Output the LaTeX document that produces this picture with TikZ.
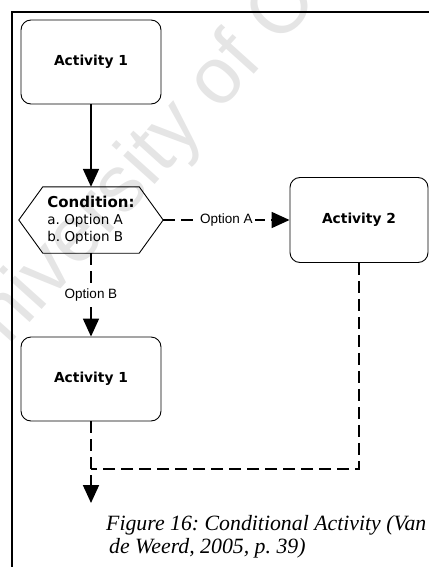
\documentclass[tikz,border=0pt]{standalone}
\usepackage{fontspec}
\setmainfont{Liberation Serif}
\newfontfamily\boxfont{DejaVu Sans}
\newfontfamily\labfont{Liberation Sans}
\usetikzlibrary{arrows.meta}
\frenchspacing
\begin{document}
\begin{tikzpicture}[x=1pt,y=-1pt,
  actbox/.style={draw, line width=0.9pt, rounded corners=10pt, minimum width=140pt,
    minimum height=84pt, inner sep=0pt, font=\boxfont\bfseries\fontsize{13.8}{16}\selectfont},
  condbox/.style={minimum width=144pt, minimum height=66pt, inner sep=0pt, align=left,
    font=\boxfont\fontsize{13.5}{17}\selectfont},
  flow/.style={line width=1.8pt, -{Triangle[length=18pt,width=16pt]}},
  dashflow/.style={flow, dash pattern=on 12pt off 6pt},
  dashline/.style={line width=1.8pt, dash pattern=on 12pt off 6pt},
  optlabel/.style={fill=white, inner sep=2pt, font=\labfont\fontsize{13.5}{15}\selectfont},
  caption/.style={font=\itshape\fontsize{21.8}{26}\selectfont, anchor=base west, inner sep=0pt},
  frameline/.style={line width=2.2pt},
  watermark/.style={rotate=48, anchor=base west, inner sep=0pt, text=black!10,
    font=\labfont\fontsize{80}{80}\selectfont}
]
\useasboundingbox (0,0) rectangle (429,567);

% faint repository watermark behind the figure
\node[watermark] (wm) at (-30,390) {University of Cape Town};

% page frame
\draw[frameline] (12,567) -- (12,12) -- (429,12);

% activities
\node[actbox] (act1) at (91,62) {Activity 1};
\node[actbox, minimum width=138pt, minimum height=85pt] (act2) at (359,220) {Activity 2};
\node[actbox] (act1b) at (91,379) {Activity 1};

% condition (hexagon drawn round a plain node)
\node[condbox] (cond) at (91,220)
  {{\bfseries\fontsize{15}{17}\selectfont Condition:}\\a. Option A\\b. Option B};
\draw[line width=0.9pt] (cond.west) -- ([xshift=24pt]cond.north west)
  -- ([xshift=-24pt]cond.north east) -- (cond.east)
  -- ([xshift=-24pt]cond.south east) -- ([xshift=24pt]cond.south west) -- cycle;

% connectors
\coordinate (join) at (91,469);
\coordinate (exit) at (91,503);
\draw[flow] (act1.south) -- (cond.north);
\draw[dashflow] (cond.east) -- node[optlabel] (labA) {Option A} (act2.west);
\draw[dashflow] (cond.south) -- node[optlabel] (labB) {Option B} (act1b.north);
\draw[dashflow] (act1b.south) -- (exit);
\draw[dashline] (act2.south) |- (join);

% caption
\node[caption] (cap1) at (106,530) {Figure 16: Conditional Activity (Van};
\node[caption] (cap2) at (109,553) {de Weerd, 2005, p. 39)};
\end{tikzpicture}
\end{document}
